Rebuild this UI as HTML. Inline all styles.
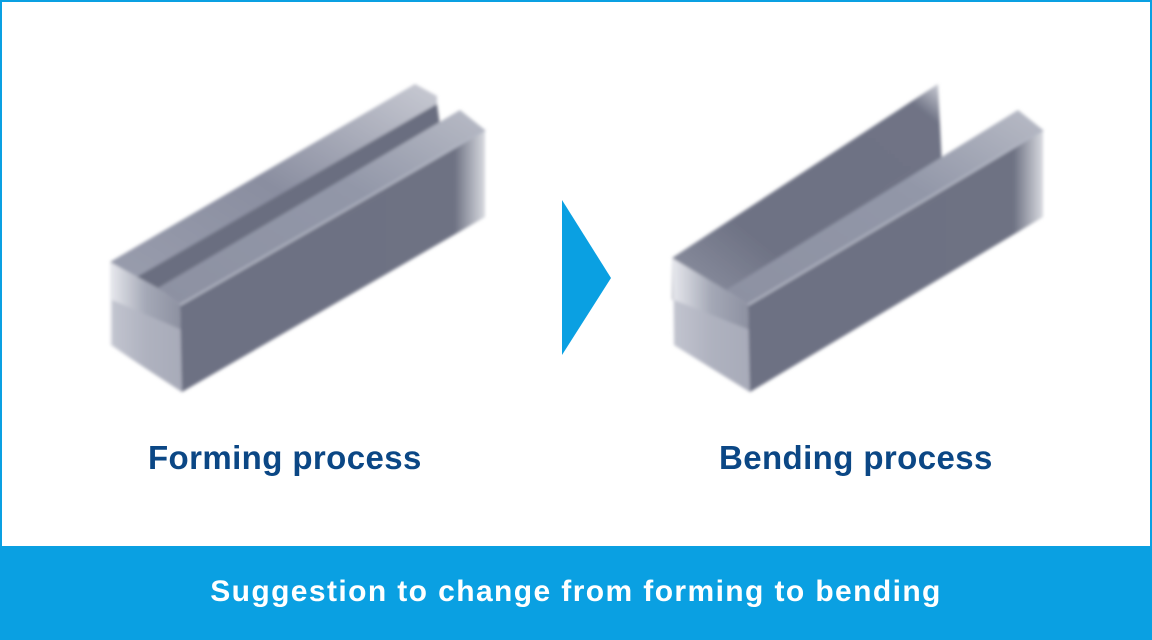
<!DOCTYPE html>
<html><head><meta charset="utf-8"><style>
html,body{margin:0;padding:0;background:#fff}
.wrap{position:relative;width:1152px;height:640px;overflow:hidden;background:#fff}
.frame{position:absolute;left:0;top:0;width:1148px;height:544px;border:2px solid #0aa0e2;border-bottom:none}
.lbl{position:absolute;top:439px;font:bold 33px "Liberation Sans",sans-serif;color:#0b4785;letter-spacing:0.4px}
.bar{position:absolute;left:0;top:546px;width:1152px;height:94px;background:#0aa0e2;color:#fff;font:bold 30px "Liberation Sans",sans-serif;text-align:center;line-height:92px;letter-spacing:1.4px}
svg{position:absolute;left:0;top:0}
</style></head><body><div class="wrap">
<div class="frame"></div>
<svg width="1152" height="640">
<defs>
<filter id="b" x="-10%" y="-10%" width="120%" height="120%"><feGaussianBlur stdDeviation="1.6"/></filter>
<linearGradient id="fr" x1="0" y1="0" x2="1" y2="0"><stop offset="0" stop-color="#6d7183"/><stop offset="0.9" stop-color="#6e7283"/><stop offset="1" stop-color="#d8dae0"/></linearGradient>
<linearGradient id="fl" x1="0" y1="1" x2="1" y2="0"><stop offset="0" stop-color="#8d91a2"/><stop offset="0.6" stop-color="#9297a8"/><stop offset="1" stop-color="#b8bbc6"/></linearGradient>
<linearGradient id="en" x1="0" y1="0" x2="1" y2="0"><stop offset="0" stop-color="#e8e9ee"/><stop offset="0.5" stop-color="#a4a8b6"/><stop offset="1" stop-color="#8c90a0"/></linearGradient>
<linearGradient id="tp" x1="0" y1="1" x2="1" y2="0"><stop offset="0" stop-color="#9a9eae"/><stop offset="0.5" stop-color="#8a8ea0"/><stop offset="1" stop-color="#c8cad3"/></linearGradient>
<linearGradient id="bw" x1="0" y1="1" x2="1" y2="0"><stop offset="0" stop-color="#9094a4"/><stop offset="0.3" stop-color="#6e7284"/><stop offset="0.9" stop-color="#6f7385"/><stop offset="1" stop-color="#d0d2da"/></linearGradient>
</defs>
<g filter="url(#b)">
<polygon points="110,262 415,84 437,96 437,122 158,290 110,290" fill="url(#tp)"/>
<polygon points="135,278 437,104 440,125 160,292" fill="#6a6e80"/>
<polygon points="110,262 158,288 180,305 182,392 110,345" fill="url(#en)"/>
<polygon points="112,345 182,392 182,330 112,300" fill="#b4b7c3" opacity="0.7"/>
<polygon points="180,305 485,130 485,217 182,392" fill="url(#fr)"/>
<polygon points="158,288 180,305 485,130 460,110" fill="url(#fl)"/>
<line x1="180" y1="305" x2="485" y2="130" stroke="#b3b7c4" stroke-width="2"/>
<polygon points="672,258 938,84 942,165 730,292 672,300" fill="url(#bw)"/>
<polygon points="672,258 726,290 748,305 750,392 674,345" fill="url(#en)"/>
<polygon points="674,345 750,392 750,330 674,300" fill="#b4b7c3" opacity="0.7"/>
<polygon points="748,305 1043,130 1043,217 750,392" fill="url(#fr)"/>
<polygon points="726,290 748,305 1043,130 1018,110" fill="url(#fl)"/>
<line x1="748" y1="305" x2="1043" y2="130" stroke="#b3b7c4" stroke-width="2"/>
</g>
<polygon points="562,200 611,278 562,355" fill="#0aa0e2"/>
</svg>
<div class="lbl" style="left:148px">Forming process</div>
<div class="lbl" style="left:719px">Bending process</div>
<div class="bar">Suggestion to change from forming to bending</div>
</div></body></html>
